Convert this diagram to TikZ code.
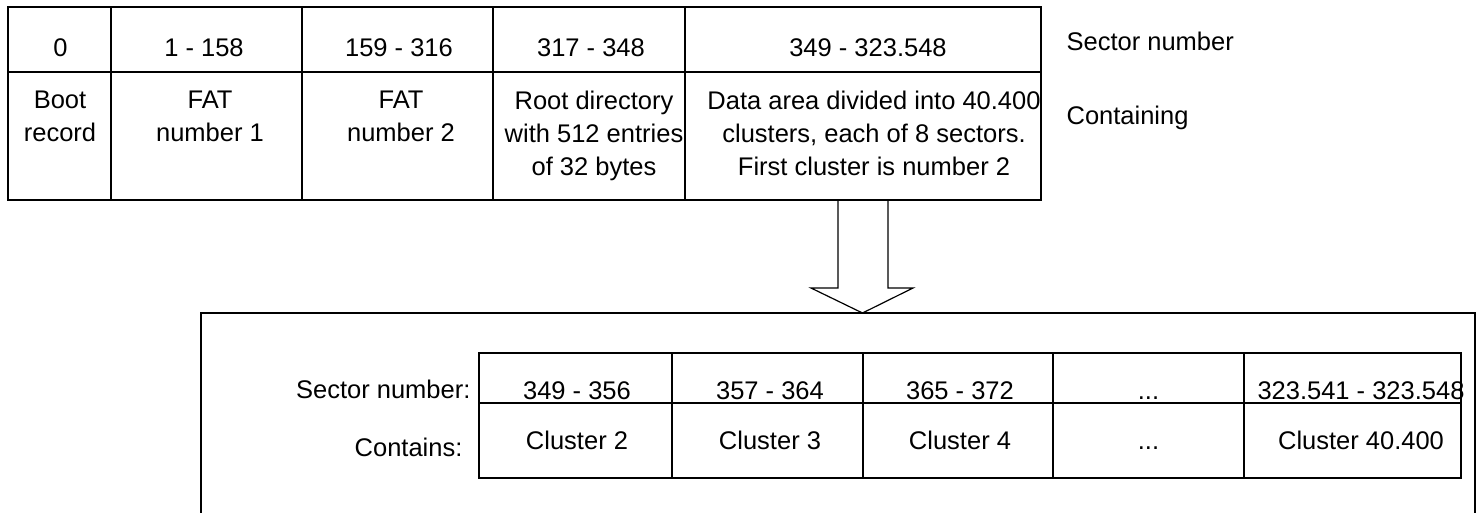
\documentclass[tikz,border=0pt]{standalone}
\usepackage{fontspec}
\setmainfont{Liberation Sans}
\begin{document}
\begin{tikzpicture}[x=1pt,y=-1pt,line width=1.2pt,
  txt/.style={inner sep=0pt,anchor=base,font=\fontsize{25.5}{33}\selectfont},
  mtxt/.style={inner sep=0pt,anchor=north,align=center,font=\fontsize{25.5}{33}\selectfont},
  rtxt/.style={inner sep=0pt,anchor=base east,font=\fontsize{25.5}{33}\selectfont},
  ltxt/.style={inner sep=0pt,anchor=base west,font=\fontsize{25.5}{33}\selectfont}]
\useasboundingbox (0,0) rectangle (1482,512);
\clip (0,0) rectangle (1482,512);
% ---------- top table ----------
\draw (8,7) rectangle (1041,200);
\draw (8,72) -- (1041,72);
\foreach \x in {111,302,493,685} \draw (\x,7) -- (\x,200);
\node[txt] (n0) at (60.5,56) {0};
\node[txt] (n1) at (204,56) {1 - 158};
\node[txt] (n2) at (399,56) {159 - 316};
\node[txt] (n3) at (591,56) {317 - 348};
\node[txt] (n4) at (868,56) {349 - 323.548};
\node[mtxt] (c0) at (60,90.5) {Boot\\record};
\node[mtxt] (c1) at (210,90.5) {FAT\\number 1};
\node[mtxt] (c2) at (401,90.5) {FAT\\number 2};
\node[mtxt] (c3) at (594,90.5) {Root directory\\with 512 entries\\of 32 bytes};
\node[mtxt] (c4) at (874,90.5) {Data area divided into 40.400\\clusters, each of 8 sectors.\\First cluster is number 2};
\node[ltxt] (lsec) at (1066,50) {Sector number};
\node[ltxt] (lcon) at (1066,124) {Containing};
% ---------- block arrow ----------
\coordinate (atl) at (838,200);
\coordinate (atr) at (888,200);
\coordinate (atip) at (862.5,313);
\draw[line join=miter] (atl) -- (838,288) -- (811,288) -- (atip) -- (913,288) -- (888,288) -- (atr);
% ---------- bottom box ----------
\draw (201,313) rectangle (1475,530);
% ---------- inner table ----------
\draw (479,353) rectangle (1461,478);
\draw (479,403) -- (1461,403);
\foreach \x in {672,863,1053,1244} \draw (\x,353) -- (\x,478);
\node[rtxt] (ls) at (471,398) {Sector number:};
\node[rtxt] (lc) at (463,456) {Contains:};
\node[txt] (s1) at (577,399) {349 - 356};
\node[txt] (s2) at (770,399) {357 - 364};
\node[txt] (s3) at (960,399) {365 - 372};
\node[txt] (s4) at (1148.5,399) {...};
\node[txt] (s5) at (1361,399) {323.541 - 323.548};
\node[txt] (k1) at (577,449) {Cluster 2};
\node[txt] (k2) at (770,449) {Cluster 3};
\node[txt] (k3) at (960,449) {Cluster 4};
\node[txt] (k4) at (1148.5,449) {...};
\node[txt] (k5) at (1361,449) {Cluster 40.400};
\end{tikzpicture}
\end{document}
